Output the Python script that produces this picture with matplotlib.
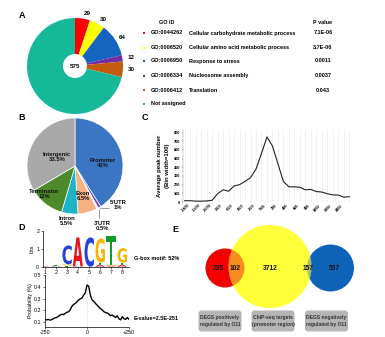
import matplotlib
matplotlib.use("Agg")
import matplotlib.pyplot as plt
from matplotlib.patches import Circle, FancyBboxPatch, PathPatch
from matplotlib.textpath import TextPath
from matplotlib.font_manager import FontProperties
from matplotlib.transforms import Affine2D

plt.rcParams['font.family'] = ['Liberation Sans', 'DejaVu Sans']

# ---------------- data ----------------
# Panel A
go_ids = ["GO:0044262", "GO:0006520", "GO:0006950", "GO:0006334", "GO:0006412"]
go_terms = ["Cellular carbohydrate metabolic process", "Cellular amino acid metabolic process",
            "Response to stress", "Nucleosome assembly", "Translation"]
go_pvalues = ["7.1E-06", "3.7E-06", "0.0011", "0.0037", "0.043"]
go_counts = [29, 30, 64, 12, 30]
go_total = 575
go_colors = ["#FF0000", "#FFFF00", "#1565C0", "#7030A0", "#C55A11"]
not_assigned_color = "#16B89A"

# Panel B
region_names = ["Promoter", "5'UTR", "3'UTR", "Exon", "Intron", "Terminator", "Intergenic"]
region_pct = [41, 1, 0.5, 6.5, 5.5, 12, 33.5]
region_colors = ["#3B76C4", "#7B3FC0", "#E4E4EC", "#F6B183", "#1DB4C6", "#4E8A2C", "#A9A9A9"]

# Panel C
c_x = list(range(-1500, 1501, 100))
c_y = [15, 15, 10, 10, 12, 20, 95, 140, 125, 185, 200, 238, 280, 380, 560, 750,
       645, 440, 235, 175, 175, 170, 140, 145, 120, 115, 95, 82, 80, 55, 62]
c_ticks = list(range(-1400, 1401, 200))
c_ticklabels = [("TSS" if t == 0 else str(t)) for t in c_ticks]

# Panel D logo (bottom -> top stacks)
logo_positions = [1, 2, 3, 4, 5, 6, 7, 8]
logo_stacks = [
    [("G", 0.02), ("A", 0.02)],
    [("C", 0.03), ("G", 0.03), ("T", 0.04)],
    [("T", 0.06), ("G", 0.07), ("C", 1.06)],
    [("C", 0.02), ("A", 1.62)],
    [("C", 1.64)],
    [("A", 0.10), ("T", 0.13), ("G", 1.35)],
    [("A", 0.04), ("G", 0.06), ("T", 1.60)],
    [("A", 0.10), ("T", 0.13), ("G", 0.81)],
]
base_colors = {"A": "#E8131B", "C": "#2540D8", "G": "#F2B705", "T": "#0F9D2E"}

# Panel D probability curve
d_x = list(range(-250, 251, 10))
d_y = [0.125, 0.12, 0.125, 0.118, 0.122, 0.13, 0.138, 0.14, 0.152, 0.16, 0.168,
       0.165, 0.175, 0.185, 0.188, 0.205, 0.235, 0.25, 0.26, 0.272, 0.29, 0.298,
       0.305, 0.33, 0.35, 0.415, 0.405, 0.33, 0.29, 0.278, 0.26, 0.245, 0.23,
       0.215, 0.205, 0.19, 0.183, 0.178, 0.17, 0.155, 0.162, 0.15, 0.14, 0.155,
       0.13, 0.12, 0.148, 0.13, 0.125, 0.14, 0.125]

# Panel E
venn_counts = [235, 102, 3712, 157, 537]
venn_set_labels = ["DEGS positively\nregulated by O11", "ChIP-seq targets\n(promoter region)",
                   "DEGS negatively\nregulated by O11"]

# ---------------- layout ----------------
W, H = 385, 337
fig = plt.figure(figsize=(W / 100, H / 100), dpi=100)


def px_axes(x0, y0, x1, y1):
    return fig.add_axes([x0 / W, 1 - y1 / H, (x1 - x0) / W, (y1 - y0) / H])


# Panel A donut
cxA, cyA, rA = 75, 66, 48
axA = px_axes(cxA - 1.25 * rA, cyA - 1.25 * rA, cxA + 1.25 * rA, cyA + 1.25 * rA)
valsA = go_counts + [go_total - sum(go_counts)]
labsA = [str(v) for v in go_counts] + [""]
axA.pie(valsA, colors=go_colors + [not_assigned_color], startangle=90,
        counterclock=False, labels=labsA, labeldistance=1.1,
        wedgeprops=dict(width=0.75, linewidth=0),
        textprops=dict(fontsize=4.5, fontweight='bold'))
axA.text(0, 0, str(go_total), ha='center', va='center', fontsize=4.5, fontweight='bold')
axA.set_xlim(-1.25, 1.25)
axA.set_ylim(-1.25, 1.25)

# Panel B pie
cxB, cyB, rB = 75, 166, 48
axB = px_axes(cxB - 1.25 * rB, cyB - 1.25 * rB, cxB + 1.25 * rB, cyB + 1.25 * rB)
axB.pie(region_pct, colors=region_colors, startangle=90, counterclock=False,
        wedgeprops=dict(linewidth=0.5, edgecolor='white'))
axB.set_xlim(-1.25, 1.25)
axB.set_ylim(-1.25, 1.25)

# Panel C line
axC = px_axes(183, 130, 357, 202)
axC.plot(c_x, c_y, color='#222222', lw=0.8)
axC.set_xlim(-1530, 1640)
axC.set_ylim(0, 830)
for xv in c_x:
    axC.axvline(xv, color='#E6E6E6', lw=0.4, zorder=0)
axC.set_xticks(c_ticks)
axC.set_xticklabels(c_ticklabels, rotation=45, ha='right', fontsize=2.8, fontweight='bold')
axC.set_yticks(range(0, 801, 100))
axC.tick_params(axis='y', labelsize=2.8, length=1.0, width=0.3, pad=0.8)
axC.tick_params(axis='x', length=0, pad=1)
for lab in axC.get_yticklabels():
    lab.set_fontweight('bold')
for s in ['top', 'right', 'bottom']:
    axC.spines[s].set_visible(False)
axC.spines['left'].set_linewidth(0.3)
axC.spines['left'].set_color('#888888')

# Panel D logo
axL = px_axes(42.7, 231, 128.6, 266.7)
axL.set_xlim(0.82, 8.6)
axL.set_ylim(0, 2)
fp = FontProperties(family='DejaVu Sans', weight='bold')
for pos, stack in zip(logo_positions, logo_stacks):
    y0 = 0
    for letter, h in stack:
        tp = TextPath((0, 0), letter, size=1, prop=fp)
        verts = tp.vertices
        xmin, xmax = verts[:, 0].min(), verts[:, 0].max()
        ymin, ymax = verts[:, 1].min(), verts[:, 1].max()
        tr = (Affine2D().translate(-xmin, -ymin)
              .scale(0.92 / (xmax - xmin), h / (ymax - ymin))
              .translate(pos - 0.46, y0) + axL.transData)
        axL.add_patch(PathPatch(tp, transform=tr, fc=base_colors[letter], lw=0))
        y0 += h
axL.set_xticks(logo_positions)
axL.set_yticks([0, 1, 2])
axL.tick_params(labelsize=3.8, length=1.5, width=0.4, pad=1)
axL.set_ylabel("bits", fontsize=3.8, labelpad=1)
for s in ['top', 'right']:
    axL.spines[s].set_visible(False)
for s in ['left', 'bottom']:
    axL.spines[s].set_linewidth(0.5)

# Panel D probability
axP = px_axes(45, 275, 129, 327)
axP.plot(d_x, d_y, color='black', lw=1.0)
axP.axvline(0, color='#BBBBBB', lw=0.4, ls=':', zorder=0)
axP.set_xlim(-250, 250)
axP.set_ylim(0.06, 0.5)
axP.set_xticks([-250, 0, 250])
axP.set_xticklabels(["-250", "0", "+250"])
axP.set_yticks([0.1, 0.2, 0.3, 0.4, 0.5])
axP.tick_params(labelsize=3.8, length=1.5, width=0.4, pad=1)
axP.set_ylabel("Probability (%)", fontsize=3.8, labelpad=1)
for s in ['top', 'right']:
    axP.spines[s].set_visible(False)
for s in ['left', 'bottom']:
    axP.spines[s].set_linewidth(0.5)

# ---------------- overlay (text, table, venn) ----------------
ov = fig.add_axes([0, 0, 1, 1])
ov.set_xlim(0, W)
ov.set_ylim(H, 0)
ov.axis('off')
ov.patch.set_alpha(0)

fs_lbl = 6.5
for letter, (x, y) in zip("ABCDE", [(22, 15), (22, 117), (145, 118), (22, 228), (175, 230)]):
    ov.text(x, y, letter, fontsize=fs_lbl, fontweight='bold', ha='center', va='center')

# Table for A
fsT = 4.0
ov.text(159, 22, "GO ID", fontsize=fsT, fontweight='bold', va='center')
ov.text(323, 22, "P value", fontsize=fsT, fontweight='bold', va='center', ha='center')
row_y = [33, 47.5, 61, 75.5, 90]
for y, gid, term, pv, col in zip(row_y, go_ids, go_terms, go_pvalues, go_colors):
    ov.scatter([143.5], [y], marker='s', s=2.2, color=col, lw=0)
    ov.text(151, y, gid, fontsize=fsT, fontweight='bold', va='center')
    ov.text(189, y, term, fontsize=fsT, fontweight='bold', va='center')
    ov.text(323, y, pv, fontsize=fsT, fontweight='bold', va='center', ha='center')
ov.scatter([143.5], [104], marker='s', s=2.2, color=not_assigned_color, lw=0)
ov.text(151, 104, "Not assigned", fontsize=fsT, fontweight='bold', va='center')

# Pie B labels
fsB = 4.2
b_label_pos = {"Intergenic": (57, 157), "Promoter": (103, 163), "Terminator": (44, 194),
               "Exon": (83, 196), "Intron": (67, 221), "5'UTR": (118, 205), "3'UTR": (102, 226)}
for name, pct in zip(region_names, region_pct):
    x, y = b_label_pos[name]
    ov.text(x, y, f"{name}\n{pct:g}%", fontsize=fsB, fontweight='bold', ha='center',
            va='center', linespacing=1.1, color='#111111')
ov.plot([100, 109], [207.5, 207.5], color='#555555', lw=0.4)
ov.plot([98.5, 98.5], [209, 218], color='#555555', lw=0.4)

# Panel C y label
ov.text(160, 166, "Average peak number", rotation=90, fontsize=4.3, fontweight='bold',
        ha='center', va='center')
ov.text(168, 166, "(Bin width=100)", rotation=90, fontsize=4.3, fontweight='bold',
        ha='center', va='center')

# Panel D texts
ov.text(134, 258, "G-box motif: 52%", fontsize=4.0, fontweight='bold', va='center')
ov.text(134, 319, "E-value=2.5E-251", fontsize=4.0, fontweight='bold', va='center')

# Venn
ov.add_patch(Circle((225, 268), 19.5, color='#F20000', lw=0))
ov.add_patch(Circle((330.5, 268), 23.5, color='#0E63B8', lw=0))
ycirc = Circle((270, 266.5), 41.5, color='#FFFF3A', lw=0)
ov.add_patch(ycirc)
r_ov = Circle((225, 268), 19.5, color='#F20000', alpha=0.45, lw=0)
ov.add_patch(r_ov)
r_ov.set_clip_path(ycirc)
b_ov = Circle((330.5, 268), 23.5, color='#0E63B8', alpha=0.38, lw=0)
ov.add_patch(b_ov)
b_ov.set_clip_path(ycirc)
venn_pos = [(218, 268), (235.5, 268), (270, 268), (308, 268), (334, 268)]
for (x, y), n in zip(venn_pos, venn_counts):
    ov.text(x, y, str(n), fontsize=4.8, fontweight='bold', ha='center', va='center',
            color='#111111')
for cx, lab in zip([220, 273, 326.5], venn_set_labels):
    ov.add_patch(FancyBboxPatch((cx - 21.5, 310.5), 43, 21,
                                boxstyle='round,pad=0,rounding_size=3',
                                fc='#B5B5B5', ec='none'))
    ov.text(cx, 321, lab, fontsize=3.6, fontweight='bold', ha='center', va='center',
            linespacing=1.7, color='#333333')

fig.savefig("out.png", dpi=100)
